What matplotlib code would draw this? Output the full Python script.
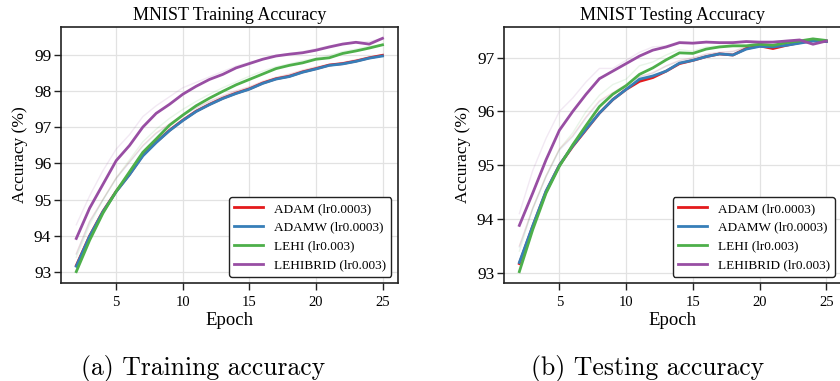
import numpy as np
import matplotlib.pyplot as plt

epochs = list(range(2, 26))

labels = ['ADAM (lr0.0003)', 'ADAMW (lr0.0003)', 'LEHI (lr0.003)', 'LEHIBRID (lr0.003)']
colors = ['#e41a1c', '#377eb8', '#4daf4a', '#984ea3']

# training accuracy (%) per epoch, smoothed curves
train_adam = [93.17, 93.99, 94.67, 95.23, 95.70, 96.23, 96.59, 96.92, 97.20, 97.45, 97.64, 97.81,
              97.95, 98.07, 98.23, 98.35, 98.42, 98.54, 98.63, 98.73, 98.77, 98.84, 98.93, 99.00]
train_adamw = [93.15, 93.98, 94.66, 95.22, 95.69, 96.21, 96.58, 96.91, 97.19, 97.44, 97.63, 97.80,
               97.94, 98.06, 98.22, 98.34, 98.41, 98.53, 98.62, 98.72, 98.76, 98.83, 98.92, 98.98]
train_lehi = [93.00, 93.87, 94.62, 95.23, 95.77, 96.31, 96.68, 97.06, 97.34, 97.60, 97.81, 98.00,
              98.18, 98.33, 98.48, 98.63, 98.72, 98.79, 98.89, 98.93, 99.05, 99.12, 99.20, 99.29]
train_hybrid = [93.92, 94.76, 95.42, 96.08, 96.50, 97.01, 97.39, 97.64, 97.92, 98.14, 98.33, 98.47,
                98.65, 98.77, 98.89, 98.98, 99.03, 99.07, 99.14, 99.23, 99.31, 99.36, 99.31, 99.47]

# raw training accuracy (%), drawn faintly behind
train_adam_raw = [93.5, 94.4, 95.0, 95.6, 96.05, 96.5, 96.85, 97.1, 97.35, 97.55, 97.73, 97.88,
                  98.02, 98.13, 98.28, 98.39, 98.48, 98.59, 98.68, 98.75, 98.8, 98.88, 98.95, 99.0]
train_adamw_raw = [93.48, 94.38, 94.98, 95.58, 96.03, 96.48, 96.83, 97.08, 97.33, 97.53, 97.71, 97.86,
                   98.0, 98.11, 98.26, 98.37, 98.46, 98.57, 98.66, 98.73, 98.78, 98.86, 98.93, 98.98]
train_lehi_raw = [93.4, 94.3, 95.0, 95.6, 96.1, 96.6, 96.95, 97.25, 97.5, 97.72, 97.92, 98.1,
                  98.26, 98.42, 98.56, 98.68, 98.76, 98.85, 98.92, 99.0, 99.1, 99.17, 99.25, 99.29]
train_hybrid_raw = [94.3, 95.1, 95.8, 96.4, 96.8, 97.3, 97.6, 97.85, 98.1, 98.25, 98.4, 98.55,
                    98.7, 98.8, 98.9, 99.0, 99.05, 99.1, 99.18, 99.26, 99.33, 99.36, 99.38, 99.47]

# testing accuracy (%) per epoch, smoothed curves
test_adam = [93.17, 93.86, 94.51, 95.00, 95.35, 95.66, 95.97, 96.22, 96.41, 96.56, 96.63, 96.75,
             96.89, 96.95, 97.02, 97.07, 97.05, 97.17, 97.22, 97.17, 97.23, 97.28, 97.32, 97.30]
test_adamw = [93.19, 93.87, 94.52, 95.00, 95.36, 95.67, 95.97, 96.22, 96.41, 96.60, 96.66, 96.75,
              96.90, 96.95, 97.02, 97.07, 97.05, 97.16, 97.21, 97.20, 97.23, 97.27, 97.31, 97.30]
test_lehi = [93.02, 93.80, 94.48, 94.98, 95.38, 95.74, 96.09, 96.32, 96.48, 96.69, 96.81, 96.96,
             97.09, 97.08, 97.16, 97.20, 97.22, 97.22, 97.25, 97.23, 97.28, 97.31, 97.35, 97.32]
test_hybrid = [93.88, 94.48, 95.10, 95.65, 96.00, 96.32, 96.61, 96.75, 96.89, 97.03, 97.14, 97.20,
               97.28, 97.27, 97.29, 97.28, 97.28, 97.30, 97.29, 97.29, 97.31, 97.33, 97.25, 97.31]

# raw testing accuracy (%)
test_adam_raw = [93.5, 94.2, 94.8, 95.3, 95.55, 95.9, 96.2, 96.35, 96.5, 96.65, 96.72, 96.85,
                 96.95, 97.0, 97.07, 97.1, 97.12, 97.2, 97.23, 97.21, 97.26, 97.3, 97.32, 97.3]
test_adamw_raw = [93.48, 94.18, 94.78, 95.28, 95.53, 95.88, 96.18, 96.33, 96.48, 96.64, 96.71, 96.84,
                  96.94, 96.99, 97.06, 97.09, 97.11, 97.19, 97.22, 97.22, 97.25, 97.29, 97.31, 97.3]
test_lehi_raw = [93.4, 94.2, 94.8, 95.3, 95.6, 96.0, 96.3, 96.5, 96.6, 96.85, 96.92, 97.05,
                 97.15, 97.12, 97.2, 97.22, 97.24, 97.24, 97.27, 97.25, 97.3, 97.33, 97.36, 97.32]
test_hybrid_raw = [94.1, 94.9, 95.5, 96.0, 96.25, 96.55, 96.8, 96.8, 96.95, 97.1, 97.2, 97.22,
                   97.3, 97.28, 97.3, 97.28, 97.3, 97.3, 97.29, 97.3, 97.32, 97.32, 97.27, 97.31]

panels = [
    ('MNIST Training Accuracy',
     [train_adam, train_adamw, train_lehi, train_hybrid],
     [train_adam_raw, train_adamw_raw, train_lehi_raw, train_hybrid_raw]),
    ('MNIST Testing Accuracy',
     [test_adam, test_adamw, test_lehi, test_hybrid],
     [test_adam_raw, test_adamw_raw, test_lehi_raw, test_hybrid_raw]),
]
captions = ['(a) Training accuracy', '(b) Testing accuracy']

plt.rcParams['font.family'] = ['Liberation Serif', 'DejaVu Serif']

fig = plt.figure(figsize=(8.4, 3.81), dpi=100)
axes = [fig.add_axes((0.0726, 0.2564, 0.401, 0.6736)),
        fig.add_axes((0.600, 0.2564, 0.402, 0.6736))]

for ax, (title, smooth, raw) in zip(axes, panels):
    for r, c in zip(raw, colors):
        ax.plot(epochs, r, color=c, lw=1.0, alpha=0.12)
    for s, c, lab in zip(smooth, colors, labels):
        ax.plot(epochs, s, color=c, lw=2.0, label=lab)
    ax.set_title(title, fontsize=13, pad=5)
    ax.set_xlabel('Epoch', fontsize=13.5, labelpad=2)
    ax.set_ylabel('Accuracy (%)', fontsize=12.5, labelpad=4)
    ax.set_xticks([5, 10, 15, 20, 25])
    ax.tick_params(length=5, width=1, color='#222222')
    ax.tick_params(axis='x', labelsize=10.5, pad=4)
    ax.tick_params(axis='y', labelsize=12.5, pad=2)
    ax.grid(True, color='#e2e2e2', lw=0.9)
    ax.set_axisbelow(True)
    for sp in ax.spines.values():
        sp.set_color('#222222')
        sp.set_linewidth(1.2)
    leg = ax.legend(loc='lower right', fontsize=9.5, frameon=True, fancybox=True,
                    framealpha=1, edgecolor='#222222', handlelength=2.2,
                    borderaxespad=0.5, labelspacing=0.5)
    leg.get_frame().set_linewidth(1.0)

axes[0].set_yticks([93, 94, 95, 96, 97, 98, 99])
axes[1].set_yticks([93, 94, 95, 96, 97])

for x, cap in zip([0.242, 0.771], captions):
    fig.text(x, 0.034, cap, ha='center', va='center', fontsize=18.5, family='cmr10')

fig.savefig('out.png', dpi=100)
